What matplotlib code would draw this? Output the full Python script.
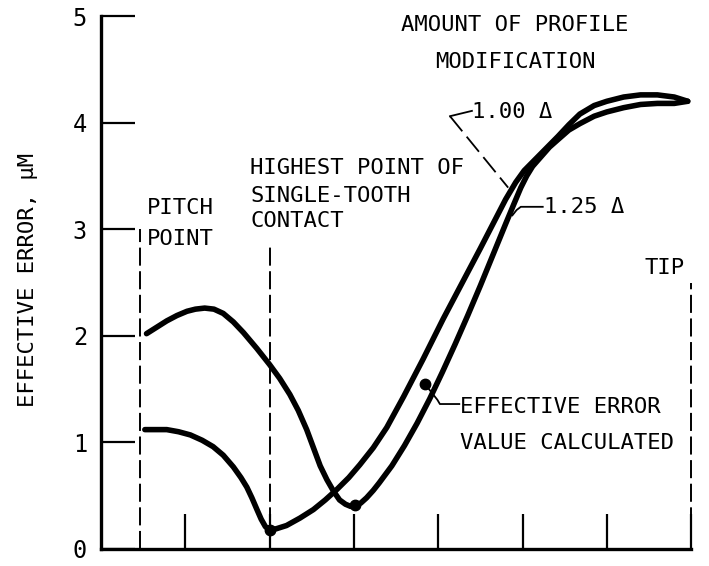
import matplotlib
matplotlib.use("Agg")
import matplotlib.pyplot as plt

plt.rcParams['font.family'] = ['DejaVu Sans Mono', 'DejaVu Sans']
plt.rcParams['lines.scale_dashes'] = False

# curve for 1.25 delta profile modification
x_125 = [0.54, 0.66, 0.78, 0.90, 1.02, 1.12, 1.23, 1.34, 1.45, 1.57, 1.69, 1.85,
         2.00, 2.12, 2.24, 2.34, 2.44, 2.52, 2.60, 2.68, 2.76, 2.83, 2.90, 2.96,
         3.01, 3.08, 3.15, 3.23, 3.30, 3.45, 3.60, 3.75, 3.90, 4.05, 4.20, 4.35,
         4.50, 4.65, 4.80, 4.90, 4.98, 5.05, 5.12, 5.22, 5.32, 5.42, 5.55, 5.68,
         5.85, 6.00, 6.20, 6.40, 6.60, 6.80, 6.96]
y_125 = [2.02, 2.08, 2.14, 2.19, 2.23, 2.25, 2.26, 2.25, 2.21, 2.13, 2.03, 1.88,
         1.73, 1.60, 1.45, 1.30, 1.12, 0.95, 0.78, 0.65, 0.54, 0.46, 0.42, 0.40,
         0.41, 0.43, 0.48, 0.55, 0.62, 0.78, 0.97, 1.18, 1.41, 1.66, 1.92, 2.19,
         2.47, 2.76, 3.05, 3.24, 3.39, 3.50, 3.59, 3.68, 3.77, 3.84, 3.93, 3.99,
         4.06, 4.10, 4.14, 4.17, 4.18, 4.18, 4.20]

# curve for 1.00 delta profile modification
x_100 = [0.52, 0.65, 0.78, 0.92, 1.06, 1.20, 1.33, 1.45, 1.57, 1.66, 1.73, 1.79,
         1.85, 1.90, 1.95, 2.00, 2.08, 2.20, 2.36, 2.52, 2.66, 2.80, 2.94, 3.07,
         3.23, 3.39, 3.59, 3.82, 4.06, 4.30, 4.50, 4.65, 4.80, 4.92, 5.02, 5.12,
         5.22, 5.32, 5.42, 5.55, 5.68, 5.85, 6.00, 6.20, 6.40, 6.60, 6.80, 6.96]
y_100 = [1.12, 1.12, 1.12, 1.10, 1.07, 1.02, 0.96, 0.88, 0.77, 0.67, 0.58, 0.48,
         0.37, 0.28, 0.21, 0.18, 0.19, 0.22, 0.29, 0.37, 0.46, 0.56, 0.67, 0.79,
         0.95, 1.14, 1.43, 1.78, 2.16, 2.52, 2.82, 3.05, 3.28, 3.44, 3.55, 3.63,
         3.71, 3.79, 3.87, 3.98, 4.08, 4.16, 4.20, 4.24, 4.26, 4.26, 4.24, 4.20]

# calculated minimum points
min_x = [2.00, 3.01]
min_y = [0.18, 0.41]
sample_x, sample_y = 3.84, 1.55

y_ticks = [0, 1, 2, 3, 4, 5]
x_ticks = [1, 2, 3, 4, 5, 6, 7]

# reference positions: (x, top of dashed line)
pitch = (0.46, 3.0)
hpstc = (2.0, 2.84)
tip = (7.0, 2.5)

FS = 16

fig = plt.figure(figsize=(7.09, 5.66), dpi=100)
ax = fig.add_axes([101 / 709, 17 / 566, 7.05 * 84.3 / 709, 533 / 566])
ax.set_xlim(0, 7.05)
ax.set_ylim(0, 5)

for s in ['top', 'right']:
    ax.spines[s].set_visible(False)
ax.spines['left'].set_linewidth(2.4)
ax.spines['bottom'].set_linewidth(2.4)
ax.spines['bottom'].set_bounds(0, 7)

ax.set_yticks(y_ticks)
ax.set_yticklabels([str(v) for v in y_ticks], fontsize=FS + 1)
ax.set_xticks(x_ticks)
ax.set_xticklabels([])
ax.tick_params(axis='y', direction='in', length=24.5, width=1.6, pad=10)
ax.tick_params(axis='x', direction='in', length=25, width=1.6)

# dashed reference lines
for xv, top in [pitch, hpstc, tip]:
    ax.plot([xv, xv], [0, top], color='black', lw=1.4, dashes=[13, 4], clip_on=False)

ax.plot(x_125, y_125, color='black', lw=4.0, solid_capstyle='round',
        solid_joinstyle='round', clip_on=False)
ax.plot(x_100, y_100, color='black', lw=4.0, solid_capstyle='round',
        solid_joinstyle='round', clip_on=False)
ax.plot(min_x, min_y, 'o', color='black', ms=7.5)
ax.plot([sample_x], [sample_y], 'o', color='black', ms=7.5)

# labels
ax.text(0.55, 3.20, 'PITCH', fontsize=FS, va='center')
ax.text(0.55, 2.91, 'POINT', fontsize=FS, va='center')
ax.text(1.77, 3.57, 'HIGHEST POINT OF', fontsize=FS, va='center')
ax.text(1.77, 3.31, 'SINGLE-TOOTH', fontsize=FS, va='center')
ax.text(1.77, 3.08, 'CONTACT', fontsize=FS, va='center')
ax.text(4.91, 4.92, 'AMOUNT OF PROFILE', fontsize=FS, va='center', ha='center', clip_on=False)
ax.text(4.91, 4.57, 'MODIFICATION', fontsize=FS, va='center', ha='center')
ax.text(6.92, 2.64, 'TIP', fontsize=FS, va='center', ha='right')

ax.text(4.40, 4.10, '1.00 Δ', fontsize=FS, va='center')
ax.plot([4.14, 4.40], [4.06, 4.11], color='black', lw=1.3)
ax.plot([4.14, 4.83], [4.06, 3.39], color='black', lw=1.3, dashes=[14, 5])

ax.text(5.25, 3.21, '1.25 Δ', fontsize=FS, va='center')
ax.plot([4.88, 4.93, 4.98, 5.24], [3.13, 3.18, 3.21, 3.21], color='black', lw=1.3)

ax.text(4.26, 1.33, 'EFFECTIVE ERROR', fontsize=FS, va='center')
ax.text(4.26, 0.99, 'VALUE CALCULATED', fontsize=FS, va='center')
ax.plot([sample_x, 3.99, 4.02, 4.25], [sample_y, 1.40, 1.36, 1.36], color='black', lw=1.3)

fig.text(28 / 709, 1 - 280 / 566, 'EFFECTIVE ERROR, μM', fontsize=FS,
         rotation=90, va='center', ha='center')

fig.savefig('out.png', dpi=100)
